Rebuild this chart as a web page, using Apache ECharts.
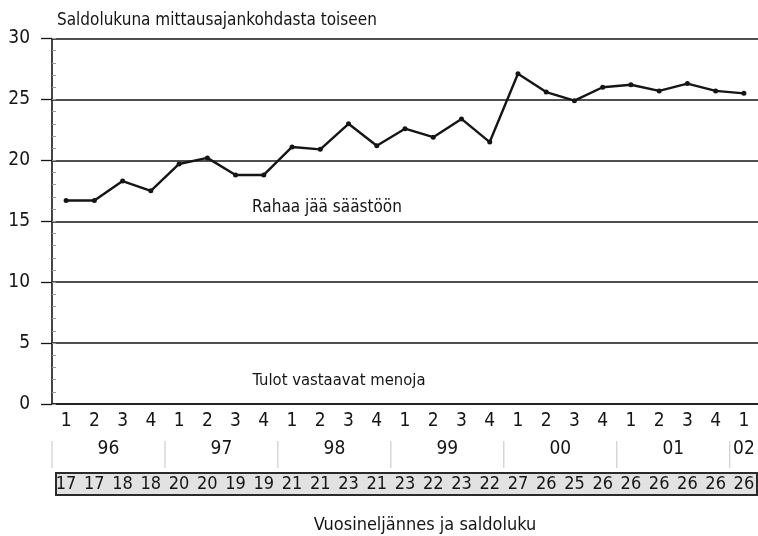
<!DOCTYPE html>
<html>
<head>
<meta charset="utf-8">
<script src="https://cdn.jsdelivr.net/npm/echarts@6/dist/echarts.min.js"></script>
<style>
  html, body { margin: 0; padding: 0; background: #fff; }
  #chart { width: 758px; height: 536px; }
</style>
</head>
<body>
<div id="chart"></div>
<script>
// Quarter labels, 1996 Q1 .. 2002 Q1
const quarters = ['1','2','3','4','1','2','3','4','1','2','3','4','1','2','3','4','1','2','3','4','1','2','3','4','1'];
// Year groups shown under the quarters
const years = ['96','97','98','99','00','01','02'];
const quartersPerYear = [4, 4, 4, 4, 4, 4, 1];
// Balance figure per quarter
const saldo = [16.7, 16.7, 18.3, 17.5, 19.7, 20.2, 18.8, 18.8, 21.1, 20.9, 23.0, 21.2,
               22.6, 21.9, 23.4, 21.5, 27.1, 25.6, 24.9, 26.0, 26.2, 25.7, 26.3, 25.7, 25.5];
// Rounded balance figures printed in the strip
const saldoLabels = ['17','17','18','18','20','20','19','19','21','21','23','21',
                     '23','22','23','22','27','26','25','26','26','26','26','26','26'];
// Value axis
const yMin = 0, yMax = 30, yStep = 5;

const FONT = '"Liberation Sans Narrow", "DejaVu Sans Condensed", "Liberation Sans", sans-serif';
const INK = '#151515';

// start index of each year group
const yearStarts = [];
quartersPerYear.reduce((acc, n) => { yearStarts.push(acc); return acc + n; }, 0);
const yearData = years.map((y, i) => [yearStarts[i], 0, quartersPerYear[i]]);

const chart = echarts.init(document.getElementById('chart'), null, { renderer: 'canvas' });

chart.setOption({
  backgroundColor: '#ffffff',
  animation: false,
  textStyle: { fontFamily: FONT },
  grid: { left: 52, right: 0, top: 38.5, bottom: 132, containLabel: false },
  xAxis: [
    {
      type: 'category',
      data: quarters,
      boundaryGap: true,
      axisLine: { show: true, lineStyle: { color: INK, width: 1.6 } },
      axisTick: { show: false },
      axisLabel: { color: INK, fontSize: 19, fontFamily: FONT, margin: 8, interval: 0 }
    },
    {
      type: 'category',
      data: saldoLabels,
      position: 'bottom',
      offset: 63,
      z: 10,
      boundaryGap: true,
      axisLine: { show: false },
      axisTick: { show: false },
      axisLabel: { color: INK, fontSize: 18, fontFamily: FONT, margin: 8, interval: 0 }
    }
  ],
  yAxis: [
    {
      type: 'value',
      min: yMin, max: yMax, interval: yStep,
      axisLine: { show: true, lineStyle: { color: INK, width: 1.6 } },
      axisTick: { show: true, length: 11, lineStyle: { color: INK, width: 1.3 } },
      axisLabel: { color: INK, fontSize: 19, fontFamily: FONT, margin: 22 },
      splitLine: { show: true, lineStyle: { color: INK, width: 1.6 } }
    },
    {
      // minor unit ticks inside the axis
      type: 'value',
      position: 'left',
      min: yMin, max: yMax, interval: 1,
      axisLine: { show: false },
      axisTick: { show: true, inside: true, length: 4, lineStyle: { color: '#9a9a9a', width: 1 } },
      axisLabel: { show: false },
      splitLine: { show: false }
    }
  ],
  series: [
    {
      type: 'line',
      data: saldo,
      xAxisIndex: 0,
      yAxisIndex: 0,
      symbol: 'circle',
      symbolSize: 5,
      lineStyle: { color: INK, width: 2.4 },
      itemStyle: { color: INK },
      z: 5
    },
    {
      // year row and shaded strip under the quarter labels
      type: 'custom',
      xAxisIndex: 0,
      yAxisIndex: 0,
      clip: false,
      silent: true,
      z: 1,
      encode: { x: 0, y: 1 },
      data: yearData,
      renderItem: function (params, api) {
        const start = api.value(0);
        const count = api.value(2);
        const c = api.coord([start, 0]);
        const band = api.size([1, 0])[0];
        const x0 = c[0] - band / 2;
        const yBase = c[1];
        const children = [
          {
            type: 'line',
            shape: { x1: x0, y1: yBase + 37, x2: x0, y2: yBase + 64 },
            style: { stroke: '#c4c4c4', lineWidth: 1 }
          },
          {
            type: 'text',
            style: {
              x: x0 + count * band / 2,
              y: yBase + 45,
              text: years[params.dataIndex],
              fill: INK,
              font: '19px ' + FONT,
              align: 'center',
              verticalAlign: 'middle'
            }
          }
        ];
        if (params.dataIndex === 0) {
          const total = quarters.length * band;
          children.unshift({
            type: 'rect',
            shape: { x: x0 + 4, y: yBase + 69, width: total - 5, height: 22 },
            style: { fill: '#e2e2e2', stroke: '#2a2a2a', lineWidth: 2 }
          });
        }
        return { type: 'group', children: children };
      }
    }
  ],
  graphic: [
    {
      type: 'text', left: 57, top: 12,
      style: { text: 'Saldolukuna mittausajankohdasta toiseen', fill: INK, font: '17px ' + FONT }
    },
    {
      type: 'text', x: 327, y: 208,
      style: { text: 'Rahaa jää säästöön', fill: INK, font: '17px ' + FONT, align: 'center', verticalAlign: 'middle' }
    },
    {
      type: 'text', x: 339, y: 381,
      style: { text: 'Tulot vastaavat menoja', fill: INK, font: '16.5px ' + FONT, align: 'center', verticalAlign: 'middle' }
    },
    {
      type: 'text', x: 425, y: 525,
      style: { text: 'Vuosineljännes ja saldoluku', fill: INK, font: '18px ' + FONT, align: 'center', verticalAlign: 'middle' }
    }
  ]
});
</script>
</body>
</html>
